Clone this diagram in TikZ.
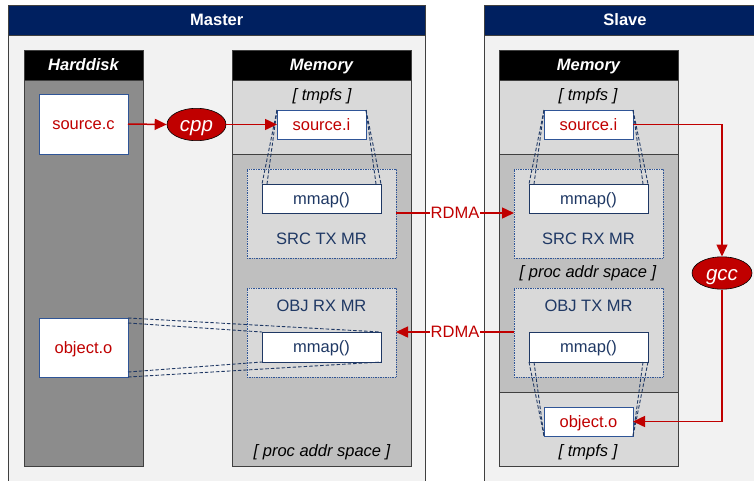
\documentclass[tikz,border=0pt]{standalone}
\usepackage{fontspec}
\setmainfont{Liberation Sans}
\usetikzlibrary{arrows.meta,shapes.geometric}
\definecolor{hdrblue}{HTML}{002060}
\definecolor{panelbg}{HTML}{F2F2F2}
\definecolor{diskgray}{HTML}{8C8C8C}
\definecolor{tmpgray}{HTML}{D9D9D9}
\definecolor{procgray}{HTML}{BFBFBF}
\definecolor{txtnavy}{HTML}{1F3864}
\definecolor{boxnavy}{HTML}{2F5597}
\definecolor{fred}{HTML}{C00000}
\definecolor{edge}{HTML}{404040}
\tikzset{
  txt/.style={text height=14.9pt, text depth=3.5pt},
  box/.style={anchor=north west, inner sep=0pt, outer sep=0pt},
  panel/.style={box, draw=edge, fill=panelbg, line width=0.8pt},
  panelhdr/.style={box, txt, draw=edge, fill=hdrblue, text=white, font=\fontsize{16.5}{18}\selectfont\bfseries, line width=0.8pt},
  colbody/.style={box, draw=edge, line width=0.8pt},
  colhdr/.style={box, txt, draw=edge, fill=black, text=white, font=\fontsize{16.5}{18}\selectfont\bfseries\itshape, line width=0.8pt},
  filebox/.style={box, txt, draw=boxnavy, fill=white, text=fred, font=\fontsize{16.5}{18}\selectfont, line width=0.9pt},
  mmapbox/.style={box, txt, draw=txtnavy, fill=white, text=txtnavy, font=\fontsize{16.5}{18}\selectfont, line width=0.9pt},
  mrbox/.style={box, draw=boxnavy, densely dotted, fill=tmpgray, line width=0.7pt},
  mrlabel/.style={txt, text=txtnavy, font=\fontsize{16.5}{18}\selectfont, inner sep=0pt},
  note/.style={txt, text=black, font=\fontsize{16.5}{18}\selectfont\itshape, inner sep=0pt},
  tool/.style={ellipse, text height=18.6pt, text depth=4.3pt, draw=black, fill=fred, text=white, font=\fontsize{20.5}{22}\selectfont\itshape, inner sep=0pt, line width=0.6pt},
  rarr/.style={draw=fred, line width=1.5pt, -{Triangle[length=12pt,width=11pt]}},
  rdma/.style={txt, fill=white, text=fred, font=\fontsize{16.5}{18}\selectfont, inner sep=1pt},
  maplink/.style={draw=txtnavy, dashed, dash pattern=on 3.5pt off 2pt, line width=0.9pt},
}
\begin{document}
\begin{tikzpicture}[x=1pt,y=-1pt]
\useasboundingbox (0,0) rectangle (754,480);
\clip (0,0) rectangle (754,480);
\fill[white] (0,0) rectangle (754,480);

% Master panel
\node[panel, minimum width=416.5pt, minimum height=490pt] (master) at (8.5,5) {};
\node[panelhdr, minimum width=416.5pt, minimum height=30pt] (masterhdr) at (8.5,5) {Master};

% Harddisk column
\node[colbody, fill=diskgray, minimum width=119pt, minimum height=416pt] (hd) at (24,50) {};
\node[colhdr, minimum width=119pt, minimum height=30pt] (hdhdr) at (24,50) {Harddisk};

% Master memory column
\node[colbody, fill=procgray, minimum width=179pt, minimum height=416pt] (mmem) at (232,50) {};
\node[colbody, fill=tmpgray, minimum width=179pt, minimum height=74pt] (mtmp) at (232,80) {};
\node[colhdr, minimum width=179pt, minimum height=30pt] (mmemhdr) at (232,50) {Memory};
\node[note] (mtmplbl) at (322,95) {[ tmpfs ]};
\node[note] (mproclbl) at (322,451) {[ proc addr space ]};

\node[mrbox, minimum width=149pt, minimum height=89pt] (srctx) at (247,169) {};
\node[mrlabel] (srctxlbl) at (321.5,239) {SRC TX MR};
\node[mrbox, minimum width=149pt, minimum height=89pt] (objrx) at (247,288) {};
\node[mrlabel] (objrxlbl) at (321.5,306) {OBJ RX MR};

% Slave panel
\node[panel, minimum width=282pt, minimum height=490pt] (slave) at (484,5) {};
\node[panelhdr, minimum width=282pt, minimum height=30pt] (slavehdr) at (484,5) {Slave};

\node[colbody, fill=procgray, minimum width=179pt, minimum height=416pt] (smem) at (499,50) {};
\node[colbody, fill=tmpgray, minimum width=179pt, minimum height=74pt] (stmpa) at (499,80) {};
\node[colbody, fill=tmpgray, minimum width=179pt, minimum height=74pt] (stmpb) at (499,392) {};
\node[colhdr, minimum width=179pt, minimum height=30pt] (smemhdr) at (499,50) {Memory};
\node[note] (stmpalbl) at (588,95) {[ tmpfs ]};
\node[note] (sproclbl) at (588,272) {[ proc addr space ]};
\node[note] (stmpblbl) at (588,451) {[ tmpfs ]};

\node[mrbox, minimum width=149pt, minimum height=89pt] (srcrx) at (514,169) {};
\node[mrlabel] (srcrxlbl) at (588.5,239) {SRC RX MR};
\node[mrbox, minimum width=149pt, minimum height=89pt] (objtx) at (514,288) {};
\node[mrlabel] (objtxlbl) at (588.5,306) {OBJ TX MR};

\node[mmapbox, minimum width=119pt, minimum height=29pt] (mmapa) at (262,184) {mmap()};
\node[mmapbox, minimum width=119pt, minimum height=30pt] (mmapb) at (262,332) {mmap()};
\node[mmapbox, minimum width=119pt, minimum height=29pt] (mmapc) at (529,184) {mmap()};
\node[mmapbox, minimum width=119pt, minimum height=30pt] (mmapd) at (529,332) {mmap()};

\node[filebox, minimum width=89pt, minimum height=60pt] (srcc) at (39,94) {source.c};
\node[filebox, minimum width=89pt, minimum height=59pt] (mobj) at (39,318) {object.o};
\node[filebox, minimum width=89pt, minimum height=29pt] (msi) at (277,110) {source.i};
\node[filebox, minimum width=89pt, minimum height=29pt] (ssi) at (544,110) {source.i};
\node[filebox, minimum width=89pt, minimum height=29pt] (sobj) at (544,407) {object.o};

\node[tool, minimum width=59pt, minimum height=29pt] (cpp) at (196.5,124.5) {cpp};
\node[tool, minimum width=60pt, minimum height=30pt] (gcc) at (722,273) {gcc};

% dashed mapping lines
\draw[maplink] (msi.north west) -- (mmapa.north west);
\draw[maplink] (msi.north west) -- ([xshift=5pt]mmapa.north west);
\draw[maplink] (msi.north east) -- (mmapa.north east);
\draw[maplink] (msi.north east) -- ([xshift=-5pt]mmapa.north east);

\draw[maplink] (ssi.north west) -- (mmapc.north west);
\draw[maplink] (ssi.north west) -- ([xshift=5pt]mmapc.north west);
\draw[maplink] (ssi.north east) -- (mmapc.north east);
\draw[maplink] (ssi.north east) -- ([xshift=-5pt]mmapc.north east);

\draw[maplink] (mmapd.south west) -- (sobj.south west);
\draw[maplink] ([xshift=5pt]mmapd.south west) -- (sobj.south west);
\draw[maplink] (mmapd.south east) -- (sobj.south east);
\draw[maplink] ([xshift=-5pt]mmapd.south east) -- (sobj.south east);

\draw[maplink] (mobj.north east) -- (mmapb.north east);
\draw[maplink] ([yshift=-5pt]mobj.north east) -- (mmapb.north west);
\draw[maplink] ([yshift=5pt]mobj.south east) -- (mmapb.south west);
\draw[maplink] (mobj.south east) -- (mmapb.south east);

% red arrows
\draw[rarr] (srcc.east) -- (cpp.west);
\draw[rarr] (cpp.east) -- (msi.west);
\draw[rarr] (srctx.east |- mmapa.south) -- node[rdma] (rdmaa) {RDMA} (srcrx.west |- mmapa.south);
\draw[rarr] (objtx.west |- mmapd.north) -- node[rdma] (rdmab) {RDMA} (objrx.east |- mmapd.north);
\draw[rarr] (ssi.east) -| (gcc.north);
\draw[rarr] (gcc.south) |- (sobj.east);
\end{tikzpicture}
\end{document}
